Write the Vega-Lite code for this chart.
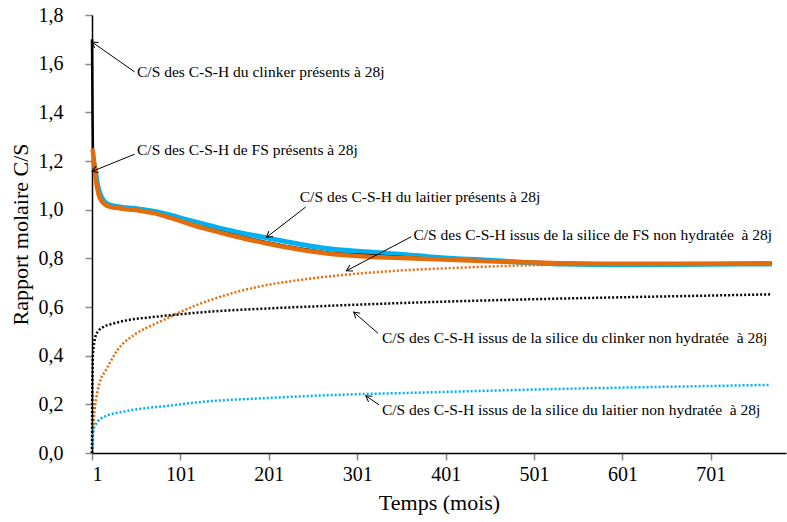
{
  "$schema": "https://vega.github.io/schema/vega-lite/v6.json",
  "width": 694,
  "height": 438,
  "autosize": {"type": "none"},
  "padding": {"left": 92, "top": 15, "right": 1, "bottom": 69},
  "background": "white",
  "config": {
    "view": {"stroke": null},
    "font": "Liberation Serif, Times New Roman, serif",
    "axis": {
      "grid": false,
      "domainColor": "black",
      "domainWidth": 1.5,
      "tickColor": "#888888",
      "tickWidth": 1.5,
      "tickSize": 7,
      "labelFont": "Liberation Serif, Times New Roman, serif",
      "labelFontSize": 20,
      "labelColor": "black",
      "titleFont": "Liberation Serif, Times New Roman, serif",
      "titleFontSize": 22,
      "titleFontWeight": "normal",
      "titleColor": "black"
    }
  },
  "datasets": {
    "solidBlue": [
      {"t": 1, "v": 1.2}, {"t": 2, "v": 1.2}, {"t": 4, "v": 1.18}, {"t": 6, "v": 1.13},
      {"t": 8, "v": 1.09}, {"t": 12, "v": 1.05}, {"t": 19, "v": 1.022}, {"t": 34, "v": 1.01},
      {"t": 53, "v": 1.003}, {"t": 72, "v": 0.993}, {"t": 90, "v": 0.977}, {"t": 109, "v": 0.958},
      {"t": 128, "v": 0.94}, {"t": 150, "v": 0.92}, {"t": 196, "v": 0.886}, {"t": 272, "v": 0.838},
      {"t": 330, "v": 0.822}, {"t": 383, "v": 0.806}, {"t": 450, "v": 0.792}, {"t": 533, "v": 0.777},
      {"t": 600, "v": 0.774}, {"t": 700, "v": 0.776}, {"t": 770, "v": 0.777}
    ],
    "solidBlack": [
      {"t": 1, "v": 1.7}, {"t": 1.5, "v": 1.45}, {"t": 2, "v": 1.25}, {"t": 3, "v": 1.18},
      {"t": 4, "v": 1.15}, {"t": 5.5, "v": 1.115}, {"t": 7.4, "v": 1.075}, {"t": 11, "v": 1.038},
      {"t": 19, "v": 1.013}, {"t": 34, "v": 1.003}, {"t": 53, "v": 0.995}, {"t": 72, "v": 0.984},
      {"t": 90, "v": 0.967}, {"t": 109, "v": 0.946}, {"t": 128, "v": 0.926}, {"t": 150, "v": 0.906},
      {"t": 196, "v": 0.868}, {"t": 272, "v": 0.822}, {"t": 330, "v": 0.81}, {"t": 383, "v": 0.798},
      {"t": 450, "v": 0.788}, {"t": 533, "v": 0.78}, {"t": 600, "v": 0.778}, {"t": 700, "v": 0.778},
      {"t": 770, "v": 0.779}
    ],
    "solidOrange": [
      {"t": 1, "v": 1.25}, {"t": 2, "v": 1.24}, {"t": 4, "v": 1.17}, {"t": 5.5, "v": 1.12},
      {"t": 7.4, "v": 1.08}, {"t": 11, "v": 1.04}, {"t": 19, "v": 1.015}, {"t": 34, "v": 1.005},
      {"t": 53, "v": 0.997}, {"t": 72, "v": 0.985}, {"t": 90, "v": 0.966}, {"t": 109, "v": 0.944},
      {"t": 128, "v": 0.923}, {"t": 150, "v": 0.902}, {"t": 196, "v": 0.863}, {"t": 272, "v": 0.818},
      {"t": 300, "v": 0.81}, {"t": 383, "v": 0.797}, {"t": 450, "v": 0.788}, {"t": 533, "v": 0.78},
      {"t": 600, "v": 0.778}, {"t": 700, "v": 0.778}, {"t": 770, "v": 0.78}
    ],
    "dotBlack": [
      {"t": 1, "v": 0.0}, {"t": 1.3, "v": 0.25}, {"t": 2, "v": 0.4}, {"t": 3, "v": 0.44},
      {"t": 5, "v": 0.48}, {"t": 8, "v": 0.5}, {"t": 15, "v": 0.52}, {"t": 23, "v": 0.53},
      {"t": 40, "v": 0.545}, {"t": 68, "v": 0.558}, {"t": 101, "v": 0.57}, {"t": 121, "v": 0.577},
      {"t": 200, "v": 0.594}, {"t": 270, "v": 0.605}, {"t": 304, "v": 0.61}, {"t": 400, "v": 0.622},
      {"t": 500, "v": 0.632}, {"t": 600, "v": 0.64}, {"t": 700, "v": 0.647}, {"t": 768, "v": 0.652}
    ],
    "dotOrange": [
      {"t": 1, "v": 0.0}, {"t": 2, "v": 0.08}, {"t": 4, "v": 0.18}, {"t": 6, "v": 0.23},
      {"t": 9.7, "v": 0.29}, {"t": 17, "v": 0.342}, {"t": 30, "v": 0.424}, {"t": 49, "v": 0.486},
      {"t": 70, "v": 0.527}, {"t": 87, "v": 0.555}, {"t": 100, "v": 0.578}, {"t": 140, "v": 0.635},
      {"t": 190, "v": 0.684}, {"t": 240, "v": 0.713}, {"t": 292, "v": 0.734}, {"t": 350, "v": 0.75},
      {"t": 420, "v": 0.762}, {"t": 500, "v": 0.772}, {"t": 572, "v": 0.776}, {"t": 650, "v": 0.778},
      {"t": 770, "v": 0.78}
    ],
    "dotBlue": [
      {"t": 1, "v": 0.02}, {"t": 2, "v": 0.07}, {"t": 3, "v": 0.1}, {"t": 6, "v": 0.123},
      {"t": 15, "v": 0.149}, {"t": 38, "v": 0.171}, {"t": 87, "v": 0.194}, {"t": 125, "v": 0.21},
      {"t": 200, "v": 0.226}, {"t": 304, "v": 0.242}, {"t": 349, "v": 0.246}, {"t": 450, "v": 0.256},
      {"t": 550, "v": 0.265}, {"t": 650, "v": 0.272}, {"t": 767, "v": 0.28}
    ],
    "arrows": [
      {"x1": 49.3, "y1": 1.566, "x2": 1, "y2": 1.689, "ang": 215},
      {"x1": 49.3, "y1": 1.228, "x2": 1, "y2": 1.157, "ang": 158},
      {"x1": 242.7, "y1": 1.011, "x2": 198.3, "y2": 0.886, "ang": 142},
      {"x1": 362.3, "y1": 0.889, "x2": 288.8, "y2": 0.749, "ang": 152},
      {"x1": 324.5, "y1": 0.492, "x2": 297, "y2": 0.579, "ang": 221},
      {"x1": 325.7, "y1": 0.198, "x2": 310.6, "y2": 0.235, "ang": 214}
    ],
    "labels": [
      {"x": 51.9, "y": 1.566, "label": "C/S des C-S-H du clinker présents à 28j"},
      {"x": 51.9, "y": 1.245, "label": "C/S des C-S-H de FS présents à 28j"},
      {"x": 236, "y": 1.053, "label": "C/S des C-S-H du laitier présents à 28j"},
      {"x": 364.6, "y": 0.896, "label": "C/S des C-S-H issus de la silice de FS non hydratée\u00a0 à 28j"},
      {"x": 329, "y": 0.472, "label": "C/S des C-S-H issus de la silice du clinker non hydratée\u00a0 à 28j"},
      {"x": 329, "y": 0.178, "label": "C/S des C-S-H issus de la silice du laitier non hydratée\u00a0 à 28j"}
    ]
  },
  "layer": [
    {
      "data": {"name": "dotBlue"},
      "mark": {"type": "line", "color": "#00B0F0", "strokeWidth": 2.5, "strokeDash": [2, 2], "interpolate": "monotone"},
      "encoding": {
        "x": {"field": "t", "type": "quantitative", "scale": {"domain": [1, 786], "nice": false, "zero": false},
              "axis": {"values": [1, 101, 201, 301, 401, 501, 601, 701], "title": "Temps (mois)", "labelPadding": 4, "titlePadding": 8}},
        "y": {"field": "v", "type": "quantitative", "scale": {"domain": [0, 1.8], "nice": false},
              "axis": {"values": [0, 0.2, 0.4, 0.6, 0.8, 1.0, 1.2, 1.4, 1.6, 1.8], "labelExpr": "replace(format(datum.value, '.1f'), '.', ',')", "title": "Rapport molaire C/S", "labelPadding": 22, "titlePadding": 6}}
      }
    },
    {
      "data": {"name": "dotOrange"},
      "mark": {"type": "line", "color": "#E46C0A", "strokeWidth": 2.5, "strokeDash": [2, 2], "interpolate": "monotone"},
      "encoding": {"x": {"field": "t", "type": "quantitative"}, "y": {"field": "v", "type": "quantitative"}}
    },
    {
      "data": {"name": "dotBlack"},
      "mark": {"type": "line", "color": "black", "strokeWidth": 2.5, "strokeDash": [2, 2], "interpolate": "monotone"},
      "encoding": {"x": {"field": "t", "type": "quantitative"}, "y": {"field": "v", "type": "quantitative"}}
    },
    {
      "data": {"name": "solidBlue"},
      "mark": {"type": "line", "color": "#00B0F0", "strokeWidth": 5, "interpolate": "monotone"},
      "encoding": {"x": {"field": "t", "type": "quantitative"}, "y": {"field": "v", "type": "quantitative"}}
    },
    {
      "data": {"name": "solidBlack"},
      "mark": {"type": "line", "color": "black", "strokeWidth": 2.5, "interpolate": "monotone"},
      "encoding": {"x": {"field": "t", "type": "quantitative"}, "y": {"field": "v", "type": "quantitative"}}
    },
    {
      "data": {"name": "solidOrange"},
      "mark": {"type": "line", "color": "#E46C0A", "strokeWidth": 4.5, "interpolate": "monotone"},
      "encoding": {"x": {"field": "t", "type": "quantitative"}, "y": {"field": "v", "type": "quantitative"}}
    },
    {
      "data": {"name": "arrows"},
      "mark": {"type": "rule", "color": "black", "strokeWidth": 1},
      "encoding": {
        "x": {"field": "x1", "type": "quantitative"}, "y": {"field": "y1", "type": "quantitative"},
        "x2": {"field": "x2"}, "y2": {"field": "y2"}
      }
    },
    {
      "data": {"name": "arrows"},
      "mark": {"type": "point", "shape": "M -1 -0.6 L 0 0 L -1 0.6", "filled": false, "stroke": "black", "strokeWidth": 1, "size": 130, "opacity": 1},
      "encoding": {
        "x": {"field": "x2", "type": "quantitative"}, "y": {"field": "y2", "type": "quantitative"},
        "angle": {"field": "ang", "type": "quantitative", "scale": null}
      }
    },
    {
      "data": {"name": "labels"},
      "mark": {"type": "text", "align": "left", "baseline": "middle", "font": "Liberation Serif, Times New Roman, serif", "fontSize": 15.5, "color": "black"},
      "encoding": {
        "x": {"field": "x", "type": "quantitative"}, "y": {"field": "y", "type": "quantitative"},
        "text": {"field": "label"}
      }
    }
  ]
}
